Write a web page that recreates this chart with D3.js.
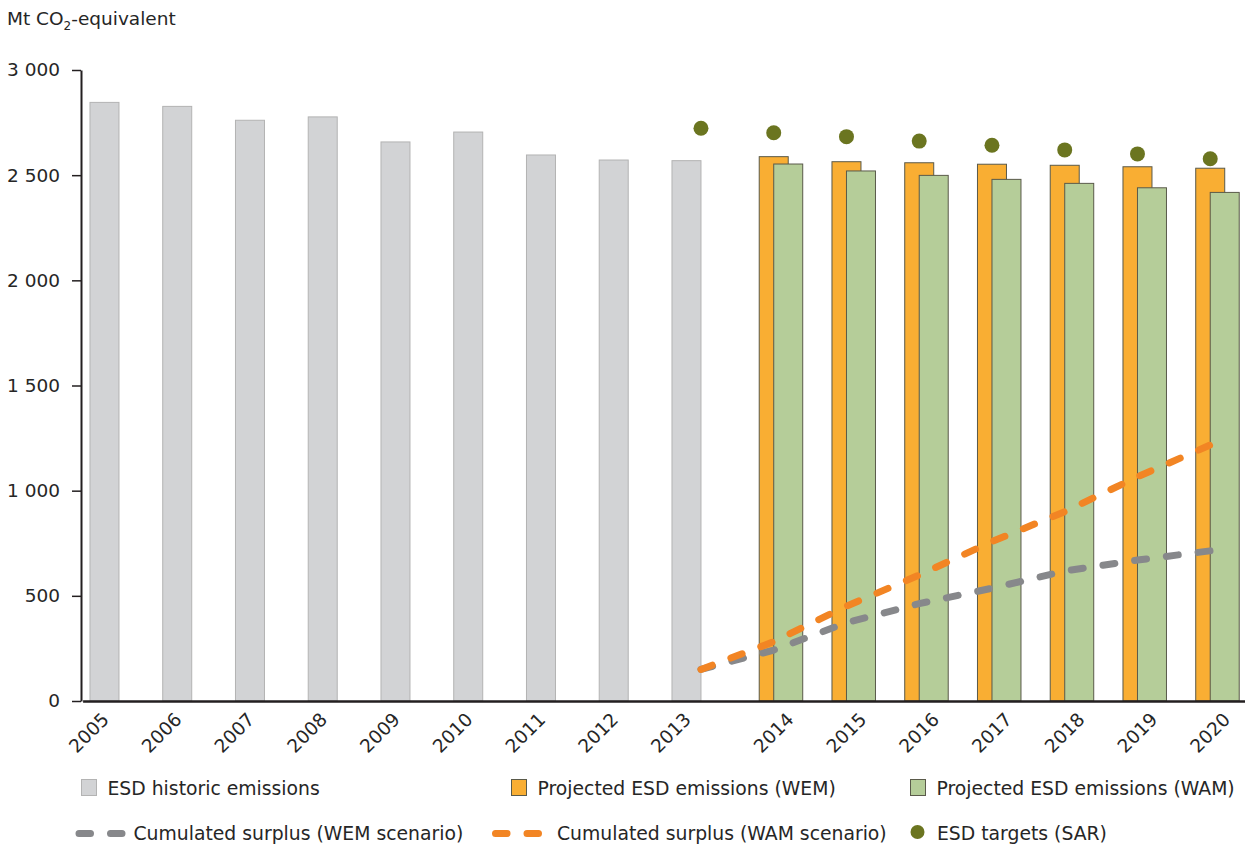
<!DOCTYPE html>
<html>
<head>
<meta charset="utf-8">
<script src="https://cdn.jsdelivr.net/npm/d3@7"></script>
<style>
  body { margin: 0; background: #fff; }
  text { font-family: "DejaVu Sans", Verdana, sans-serif; fill: #262626; }
</style>
</head>
<body>
<div id="chart"></div>
<script>
var svgWidth = 1245;
var svgHeight = 847;

// data
var years = ["2005", "2006", "2007", "2008", "2009", "2010", "2011", "2012",
             "2013", "2014", "2015", "2016", "2017", "2018", "2019", "2020"];
var historicYears = years.slice(0, 9);
var historic = [2846, 2827, 2761, 2777, 2658, 2705, 2596, 2572, 2569];
var projYears = years.slice(9);
var wem = [2588, 2564, 2559, 2552, 2547, 2540, 2533];
var wam = [2553, 2520, 2499, 2480, 2461, 2440, 2418];
var targetYears = years.slice(8);
var targets = [2723, 2702, 2683, 2662, 2642, 2620, 2601, 2578];
var surplusYears = years.slice(8);
var surplusWem = [150, 242, 372, 463, 536, 618, 670, 714];
var surplusWam = [150, 282, 451, 599, 758, 900, 1066, 1217];
var yTicks = [0, 500, 1000, 1500, 2000, 2500, 3000];

var svg = d3.select("#chart")
    .append("svg")
    .attr("width", svgWidth)
    .attr("height", svgHeight);

var x = d3.scaleBand()
    .domain(years)
    .range([82.6, 1246.6]);

var y = d3.scaleLinear()
    .domain([0, 3000])
    .range([701, 70]);

var barW = 29;
// position of each series inside a year (Excel style overlapping clusters)
var slot = d3.scaleOrdinal()
    .domain(["hist", "wem", "wam"])
    .range([-29, -14.5, 0]);

function cx(yr) { return x(yr) + x.bandwidth() / 2; }

var fmt = d3.formatLocale({ decimal: ".", thousands: " ", grouping: [3], currency: ["", ""] }).format(",");

// y axis
var yAxis = svg.append("g")
    .attr("transform", "translate(81,0)")
    .call(d3.axisLeft(y).tickValues(yTicks).tickFormat(fmt).tickSize(9).tickSizeOuter(0).tickPadding(12));
yAxis.select(".domain").attr("stroke", "#231f20").attr("stroke-width", 2);
yAxis.selectAll(".tick line").attr("stroke", "#231f20").attr("stroke-width", 1.5);
yAxis.selectAll(".tick text")
    .attr("font-size", "18.5px")
    .attr("font-family", "DejaVu Sans, Verdana, sans-serif")
    .attr("fill", "#262626");

// y axis title
var title = svg.append("text")
    .attr("x", 7)
    .attr("y", 25)
    .attr("font-size", "18.5px");
title.append("tspan").text("Mt CO");
title.append("tspan").attr("font-size", "12px").attr("dy", 5).text("2");
title.append("tspan").attr("dy", -5).text("-equivalent");

// bars
svg.selectAll("rect.hist")
    .data(historic)
    .enter()
    .append("rect")
    .attr("class", "hist")
    .attr("x", function(d, i) { return cx(historicYears[i]) + slot("hist"); })
    .attr("y", function(d) { return y(d); })
    .attr("width", barW)
    .attr("height", function(d) { return y(0) - y(d); })
    .attr("fill", "#d2d3d5")
    .attr("stroke", "#b3b3b3")
    .attr("stroke-width", 1);

svg.selectAll("rect.wem")
    .data(wem)
    .enter()
    .append("rect")
    .attr("class", "wem")
    .attr("x", function(d, i) { return cx(projYears[i]) + slot("wem"); })
    .attr("y", function(d) { return y(d); })
    .attr("width", barW)
    .attr("height", function(d) { return y(0) - y(d); })
    .attr("fill", "#f9ae33")
    .attr("stroke", "#5a5a4a")
    .attr("stroke-width", 1);

svg.selectAll("rect.wam")
    .data(wam)
    .enter()
    .append("rect")
    .attr("class", "wam")
    .attr("x", function(d, i) { return cx(projYears[i]) + slot("wam"); })
    .attr("y", function(d) { return y(d); })
    .attr("width", barW)
    .attr("height", function(d) { return y(0) - y(d); })
    .attr("fill", "#b5cd99")
    .attr("stroke", "#5a5a4a")
    .attr("stroke-width", 1);

// x axis
var xAxis = svg.append("g")
    .attr("transform", "translate(0,701)")
    .call(d3.axisBottom(x).tickSize(0).tickSizeOuter(0));
xAxis.select(".domain").attr("stroke", "#231f20").attr("stroke-width", 2.5);
xAxis.selectAll(".tick text")
    .attr("font-size", "18.5px")
    .attr("font-family", "DejaVu Sans, Verdana, sans-serif")
    .attr("fill", "#262626")
    .attr("text-anchor", "end")
    .attr("x", 0)
    .attr("y", 0)
    .attr("dy", "0.35em")
    .attr("transform", function(d) {
        // historic labels sit under the grey bar, projected ones under the pair
        var dx = historicYears.indexOf(d) >= 0 ? -13.5 : 16.5;
        return "translate(" + dx + ",15) rotate(-45)";
    });

// cumulated surplus lines
var line = d3.line()
    .x(function(d) { return cx(d[0]); })
    .y(function(d) { return y(d[1]); });

svg.append("path")
    .datum(d3.zip(surplusYears, surplusWem))
    .attr("d", line)
    .attr("fill", "none")
    .attr("stroke", "#87888b")
    .attr("stroke-width", 7)
    .attr("stroke-linecap", "round")
    .attr("stroke-dasharray", "12,20");

svg.append("path")
    .datum(d3.zip(surplusYears, surplusWam))
    .attr("d", line)
    .attr("fill", "none")
    .attr("stroke", "#f28524")
    .attr("stroke-width", 7)
    .attr("stroke-linecap", "round")
    .attr("stroke-dasharray", "12,20");

// ESD targets
svg.selectAll("circle.target")
    .data(targets)
    .enter()
    .append("circle")
    .attr("class", "target")
    .attr("cx", function(d, i) { return cx(targetYears[i]); })
    .attr("cy", function(d) { return y(d); })
    .attr("r", 7.5)
    .attr("fill", "#6b7520");

// legend
var leg = svg.append("g").attr("font-size", "18.8px");

function swatch(xp, fill, stroke, label) {
    leg.append("rect")
        .attr("x", xp).attr("y", 779.5)
        .attr("width", 15).attr("height", 16)
        .attr("fill", fill).attr("stroke", stroke).attr("stroke-width", 1);
    leg.append("text").attr("x", xp + 26).attr("y", 795).text(label);
}
swatch(81.5, "#d2d3d5", "#b3b3b3", "ESD historic emissions");
swatch(511.5, "#f9ae33", "#5a5a4a", "Projected ESD emissions (WEM)");
swatch(910.5, "#b5cd99", "#5a5a4a", "Projected ESD emissions (WAM)");

function dashes(xp, color, label, tx) {
    leg.append("line")
        .attr("x1", xp + 3.5).attr("x2", xp + 50)
        .attr("y1", 833.5).attr("y2", 833.5)
        .attr("stroke", color).attr("stroke-width", 7)
        .attr("stroke-linecap", "round")
        .attr("stroke-dasharray", "11.5,20");
    leg.append("text").attr("x", tx).attr("y", 840).text(label);
}
dashes(75.5, "#87888b", "Cumulated surplus (WEM scenario)", 133.5);
dashes(492, "#f28524", "Cumulated surplus (WAM scenario)", 557);

leg.append("circle")
    .attr("cx", 917.5).attr("cy", 832)
    .attr("r", 7)
    .attr("fill", "#6b7520");
leg.append("text").attr("x", 937).attr("y", 840).text("ESD targets (SAR)");
</script>
</body>
</html>
